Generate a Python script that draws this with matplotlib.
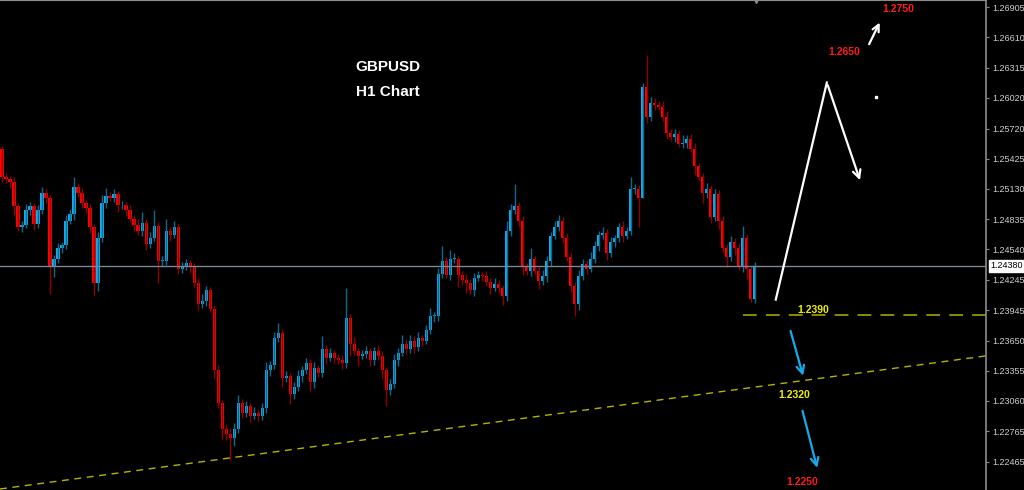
import numpy as np
import matplotlib
matplotlib.use("Agg")
import matplotlib.pyplot as plt

# GBPUSD H1 candles (price), oldest -> newest
first_open = 1.2552
closes = [
    1.2525, 1.2523, 1.2520, 1.2496, 1.2476, 1.2478, 1.2492, 1.2496, 1.2479, 1.2492,
    1.2509, 1.2504, 1.2437, 1.2445, 1.2455, 1.2458, 1.2482, 1.2489, 1.2515, 1.2509,
    1.2499, 1.2494, 1.2476, 1.2421, 1.2465, 1.2499, 1.2506, 1.2504, 1.2508, 1.2497,
    1.2497, 1.2492, 1.2484, 1.2478, 1.2472, 1.2480, 1.2459, 1.2465, 1.2477, 1.2443,
    1.2443, 1.2472, 1.2468, 1.2476, 1.2435, 1.2437, 1.2441, 1.2437, 1.2421, 1.2401,
    1.2404, 1.2414, 1.2396, 1.2336, 1.2304, 1.2279, 1.2274, 1.2270, 1.2279, 1.2304,
    1.2294, 1.2301, 1.2291, 1.2294, 1.2291, 1.2299, 1.2336, 1.2341, 1.2367, 1.2372,
    1.2328, 1.2330, 1.2313, 1.2320, 1.2330, 1.2336, 1.2343, 1.2324, 1.2338, 1.2333,
    1.2357, 1.2348, 1.2353, 1.2348, 1.2346, 1.2343, 1.2387, 1.2362, 1.2355, 1.2350,
    1.2352, 1.2355, 1.2346, 1.2355, 1.2350, 1.2336, 1.2317, 1.2323, 1.2346, 1.2353,
    1.2362, 1.2357, 1.2365, 1.2359, 1.2367, 1.2365, 1.2375, 1.2389, 1.2389, 1.2430,
    1.2443, 1.2429, 1.2445, 1.2445, 1.2429, 1.2424, 1.2421, 1.2414, 1.2426, 1.2429,
    1.2428, 1.2422, 1.2416, 1.2420, 1.2416, 1.2408, 1.2472, 1.2492, 1.2496, 1.2482,
    1.2437, 1.2433, 1.2445, 1.2433, 1.2423, 1.2428, 1.2443, 1.2467, 1.2476, 1.2482,
    1.2465, 1.2447, 1.2418, 1.2401, 1.2428, 1.2440, 1.2435, 1.2445, 1.2457, 1.2468,
    1.2470, 1.2450, 1.2461, 1.2465, 1.2476, 1.2467, 1.2472, 1.2513, 1.2513, 1.2504,
    1.2613, 1.2583, 1.2597, 1.2595, 1.2593, 1.2583, 1.2568, 1.2564, 1.2567, 1.2557,
    1.2558, 1.2562, 1.2552, 1.2535, 1.2525, 1.2509, 1.2513, 1.2486, 1.2508, 1.2482,
    1.2455, 1.2447, 1.2461, 1.2455, 1.2437, 1.2465, 1.2435, 1.2406, 1.2438,
]
# wick lengths beyond the body, in pips
upper_wick = [
    3, 4, 3, 5, 3, 4, 6, 4, 3, 5,
    6, 4, 3, 4, 5, 3, 6, 4, 10, 4,
    5, 3, 4, 3, 6, 8, 8, 4, 5, 3,
    4, 3, 5, 4, 6, 11, 4, 6, 15, 4,
    5, 12, 4, 6, 3, 5, 4, 3, 4, 5,
    6, 4, 3, 4, 5, 3, 4, 6, 5, 8,
    4, 5, 3, 6, 4, 5, 8, 4, 6, 10,
    4, 5, 3, 4, 6, 4, 5, 4, 6, 3,
    12, 4, 5, 3, 4, 5, 29, 4, 6, 3,
    4, 5, 3, 4, 6, 5, 3, 4, 6, 5,
    8, 4, 5, 4, 6, 3, 5, 8, 4, 6,
    14, 4, 8, 5, 3, 4, 6, 4, 5, 4,
    3, 5, 4, 6, 4, 3, 10, 6, 22, 4,
    5, 4, 10, 3, 4, 6, 5, 4, 6, 6,
    4, 5, 3, 4, 6, 5, 4, 6, 5, 4,
    6, 4, 5, 3, 4, 6, 4, 12, 5, 4,
    4, 31, 6, 5, 4, 6, 6, 4, 5, 4,
    8, 4, 5, 6, 3, 4, 6, 4, 5, 4,
    5, 4, 6, 4, 5, 12, 4, 3, 4,
]
lower_wick = [
    5, 4, 6, 8, 4, 5, 3, 4, 6, 4,
    3, 5, 27, 10, 4, 5, 4, 3, 6, 4,
    5, 4, 6, 12, 8, 4, 5, 3, 4, 6,
    4, 5, 3, 6, 4, 5, 6, 4, 3, 22,
    5, 4, 6, 3, 5, 4, 3, 6, 4, 6,
    4, 5, 3, 8, 5, 10, 6, 22, 8, 4,
    5, 4, 6, 3, 5, 4, 5, 6, 4, 3,
    8, 4, 10, 5, 4, 6, 4, 8, 5, 4,
    4, 6, 3, 5, 4, 6, 5, 12, 4, 10,
    3, 4, 6, 5, 4, 8, 16, 5, 4, 6,
    3, 5, 4, 6, 4, 5, 3, 4, 6, 5,
    4, 3, 5, 4, 12, 5, 10, 4, 6, 3,
    5, 4, 6, 3, 5, 8, 4, 5, 3, 6,
    8, 4, 5, 3, 8, 4, 6, 5, 3, 4,
    5, 4, 6, 12, 6, 4, 5, 3, 4, 5,
    4, 6, 3, 5, 4, 6, 3, 4, 5, 28,
    0, 6, 4, 5, 3, 4, 6, 4, 5, 3,
    4, 5, 3, 8, 4, 10, 5, 6, 4, 8,
    5, 10, 4, 6, 3, 5, 10, 3, 4,
]

price_ticks = [1.26905, 1.26610, 1.26315, 1.26020, 1.25720, 1.25425, 1.25130, 1.24835,
               1.24540, 1.24245, 1.23945, 1.23650, 1.23355, 1.23060, 1.22765, 1.22465]
bid = 1.24380
support = 1.2390
trend_start = (-0.5, 1.2220)
trend_end = (245.75, 1.2350)

BULL = '#14aaeb'
BEAR = '#ff0000'
BULL_WICK = '#0b6a90'
BEAR_WICK = '#900000'
YELLOW = '#f0f000'
DASH_YEL = '#b4b400'

closes = np.array(closes)
opens = np.concatenate([[first_open], closes[:-1]])
highs = np.maximum(opens, closes) + np.array(upper_wick) * 0.0001
lows = np.minimum(opens, closes) - np.array(lower_wick) * 0.0001
idx = np.arange(len(closes))

fig = plt.figure(figsize=(10.24, 4.9), dpi=100, facecolor='black')
ax = fig.add_axes([0, 0, 986 / 1024, 1])
ax.set_facecolor('black')

up = closes >= opens
# wicks
ax.vlines(idx[up], lows[up], highs[up], color=BULL_WICK, lw=1.0)
ax.vlines(idx[~up], lows[~up], highs[~up], color=BEAR_WICK, lw=1.0)
# bodies
body = np.maximum(np.abs(closes - opens), 0.00005)
bottom = np.minimum(opens, closes)
ax.bar(idx[up], body[up], bottom=bottom[up], width=0.82, color=BULL,
       linewidth=0, antialiased=False)
ax.bar(idx[~up], body[~up], bottom=bottom[~up], width=0.82, color=BEAR,
       linewidth=0, antialiased=False)

# bid line
ax.axhline(bid, color='#7a8794', lw=1)

# support + trend line
ax.plot([185, 245.75], [support, support], color=DASH_YEL, lw=1.1, dashes=(9, 6))
ax.plot([trend_start[0], trend_end[0]], [trend_start[1], trend_end[1]],
        color=DASH_YEL, lw=1, dashes=(5, 4))

# white scenario
ax.plot([193.25, 206], [1.2405, 1.2617], color='white', lw=1.6)
ax.annotate('', xy=(214.5, 1.2519), xytext=(206, 1.2617),
            arrowprops=dict(arrowstyle='->', color='white', lw=1.6, mutation_scale=14))
ax.annotate('', xy=(219.5, 1.2678), xytext=(216.25, 1.2652),
            arrowprops=dict(arrowstyle='->', color='white', lw=1.6, mutation_scale=12))
ax.plot([218.25], [1.2603], marker='s', ms=1.5, color='white')

# blue scenario
ax.annotate('', xy=(200.25, 1.2328), xytext=(196.75, 1.2377),
            arrowprops=dict(arrowstyle='->', color=BULL, lw=1.6, mutation_scale=14))
ax.annotate('', xy=(203.75, 1.2238), xytext=(199.75, 1.2299),
            arrowprops=dict(arrowstyle='->', color=BULL, lw=1.6, mutation_scale=14))

lab = dict(fontsize=7.5, fontweight='bold', family='Liberation Sans', ha='center', va='center')
ax.text(223.75, 1.2689, '1.2750', color='#ff1a1a', **lab)
ax.text(210.25, 1.2647, '1.2650', color='#ff1a1a', **lab)
ax.text(202.5, 1.2395, '1.2390', color=YELLOW, **lab)
ax.text(197.75, 1.2312, '1.2320', color=YELLOW, **lab)
ax.text(199.75, 1.2227, '1.2250', color='#ff1a1a', **lab)

fig.text(388 / 1024, 1 - 67 / 490, 'GBPUSD', color='white', fontsize=11,
         fontweight='bold', family='Liberation Sans', ha='center', va='center')
fig.text(388 / 1024, 1 - 92 / 490, 'H1 Chart', color='white', fontsize=11,
         fontweight='bold', family='Liberation Sans', ha='center', va='center')

ax.set_xlim(-0.5, 245.75)
ax.set_ylim(1.2219, 1.26976)

for s in ['left', 'bottom']:
    ax.spines[s].set_visible(False)
ax.spines['right'].set_color('#8c8c8c')
ax.spines['top'].set_color('#8c8c8c')
ax.spines['right'].set_linewidth(1.2)
ax.set_xticks([])
ax.yaxis.tick_right()
ax.set_yticks(price_ticks)
ax.set_yticklabels(['%.5f' % p for p in price_ticks])
ax.tick_params(axis='y', colors='#8c8c8c', labelcolor='#d0d0d0', labelsize=6.5,
               length=2.5, pad=2)
for t in ax.get_yticklabels():
    t.set_family('Liberation Sans')

# bid price box on the scale
ax.text(1.004, bid, '%.5f' % bid, transform=ax.get_yaxis_transform(), color='black',
        fontsize=6.5, family='Liberation Sans', ha='left', va='center',
        bbox=dict(boxstyle='square,pad=0.15', fc='white', ec='white'))

# chart shift marker
ax.plot([188.25], [1.26976], marker='v', ms=5, color='#8c8c8c', clip_on=False)

fig.savefig('out.png', dpi=100, facecolor='black')
